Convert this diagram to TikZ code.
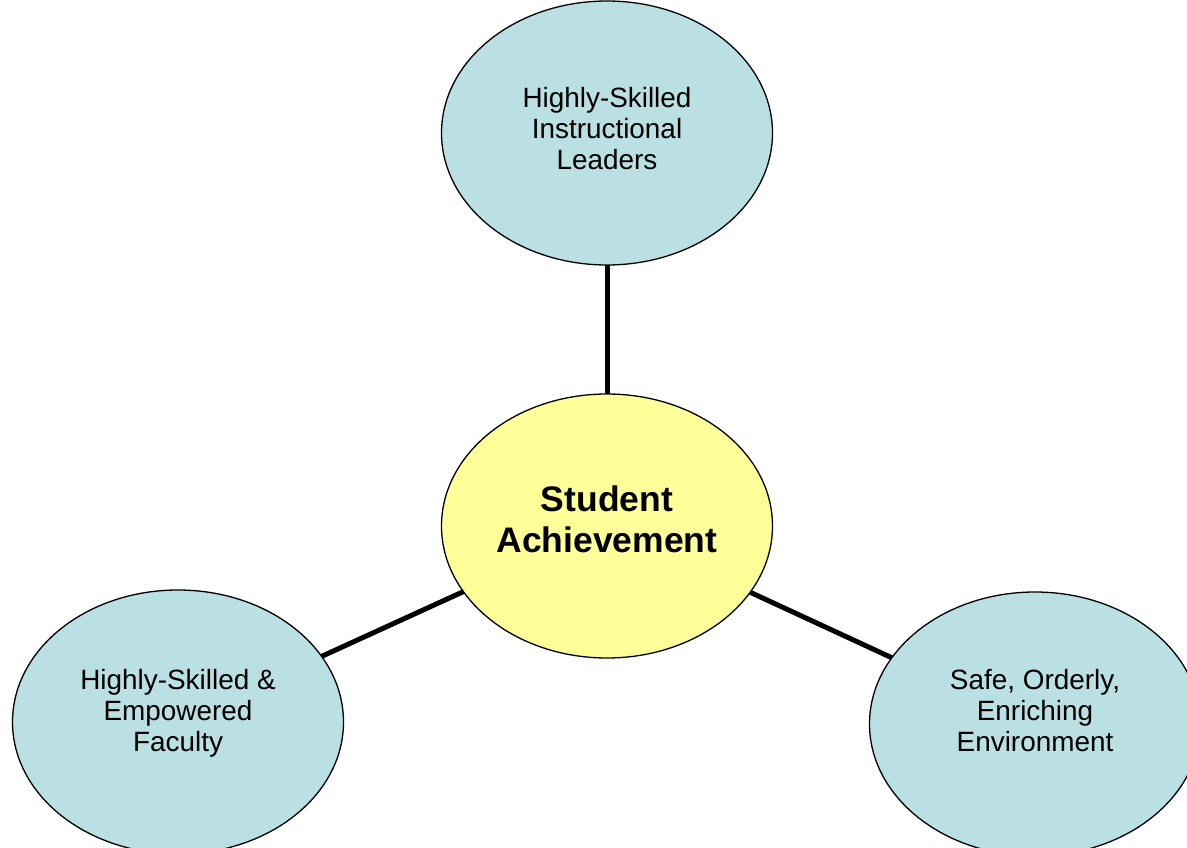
\documentclass[tikz,border=0pt]{standalone}
\usepackage{fontspec}
\setmainfont{Liberation Sans}
\usepackage{tikz}
\usetikzlibrary{shapes.geometric}
\definecolor{pillarblue}{RGB}{186,224,227}
\definecolor{coreyellow}{RGB}{255,255,153}

\begin{document}
\begin{tikzpicture}[x=1pt, y=-1pt,
        pillar/.style={ellipse, draw=black, line width=1.3pt, fill=pillarblue,
            minimum width=331pt, minimum height=264pt, inner sep=0pt, outer sep=0pt},
        core/.style={pillar, fill=coreyellow},
        pillar text/.style={align=center, inner sep=0pt, font=\fontsize{27.9}{31}\selectfont},
        core text/.style={align=center, inner sep=0pt, font=\fontsize{35.5}{41}\selectfont\bfseries},
        link/.style={line width=5pt, black}]
        \useasboundingbox (0,0) rectangle (1187,848);

        \node[core, label={[core text, yshift=7pt]center:{Student\\Achievement}}] (achieve) at (607,526) {};
        \node[pillar, label={[pillar text, yshift=4pt]center:{Highly-Skilled\\Instructional\\Leaders}}] (leaders) at (607,133) {};
        \node[pillar, label={[pillar text, yshift=9pt]center:{Highly-Skilled \&\\Empowered\\Faculty}}] (faculty) at (178,722) {};
        \node[pillar, label={[pillar text, yshift=13pt]center:{Safe, Orderly,\\Enriching\\Environment}}] (environ) at (1035,724) {};

        \draw[link] (leaders) -- (achieve);
        \draw[link] (faculty) -- (achieve);
        \draw[link] (environ) -- (achieve);
    \end{tikzpicture}
\end{document}
